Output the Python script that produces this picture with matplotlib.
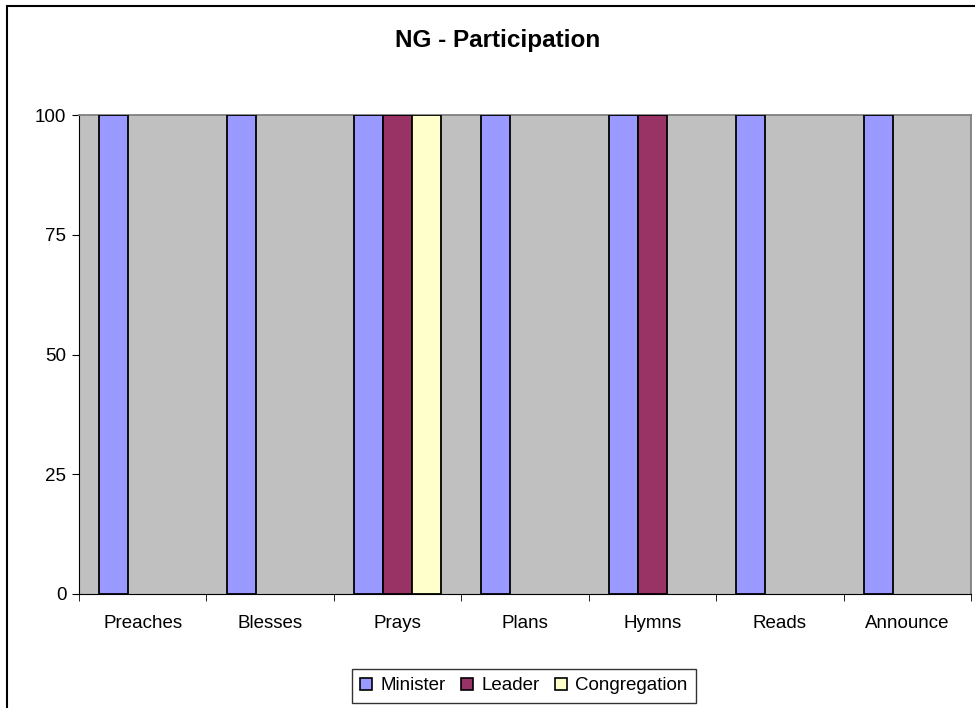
import numpy as np
import matplotlib.pyplot as plt
from matplotlib.patches import Rectangle

plt.rcParams['font.family'] = ['Liberation Sans', 'DejaVu Sans']

categories = ['Preaches', 'Blesses', 'Prays', 'Plans', 'Hymns', 'Reads', 'Announce']
series_names = ['Minister', 'Leader', 'Congregation']
minister = [100, 100, 100, 100, 100, 100, 100]
leader = [0, 0, 100, 0, 100, 0, 0]
congregation = [0, 0, 100, 0, 0, 0, 0]
colors = ['#9999FF', '#993366', '#FFFFCC']

W, H = 975, 708
fig = plt.figure(figsize=(W / 100, H / 100), dpi=100)
ax = fig.add_axes([79 / W, 1 - 594 / H, (971 - 79) / W, (594 - 115) / H])
ax.set_facecolor('#C0C0C0')

# outer chart border (cut off on right and bottom)
fig.patches.append(Rectangle((7 / W, -0.05), 1.1, 1 - 6 / H + 0.05,
                             transform=fig.transFigure, fill=False,
                             edgecolor='black', lw=1.5, zorder=0))

x = np.arange(len(categories))
bw = 0.228
for i, (vals, c, name) in enumerate(zip([minister, leader, congregation], colors, series_names)):
    v = np.array(vals, dtype=float)
    mask = v > 0
    ax.bar(x[mask] + (i - 1) * bw, v[mask], width=bw, color=c,
           edgecolor='black', linewidth=1.3, label=name, zorder=3)

ax.set_xlim(-0.5, len(categories) - 0.5)
ax.set_ylim(0, 100)
ax.set_yticks([0, 25, 50, 75, 100])
ax.set_xticks(x)
ax.set_xticklabels(categories, fontsize=13.5)
ax.tick_params(axis='x', length=0, pad=15)
ax.set_xticks(np.arange(len(categories) + 1) - 0.5, minor=True)
ax.tick_params(axis='x', which='minor', length=5, direction='out', color='black')
ax.tick_params(axis='y', length=5, direction='out', labelsize=13.5, pad=4)

for s in ['top', 'right']:
    ax.spines[s].set_color('#808080')
    ax.spines[s].set_linewidth(1.3)
ax.spines['left'].set_color('black')
ax.spines['bottom'].set_color('black')

fig.text(498 / W, 1 - 41 / H, 'NG - Participation', ha='center', va='center',
         fontsize=17.5, fontweight='bold')

handles = [Rectangle((0, 0), 1, 1, facecolor=c, edgecolor='black', lw=1.2) for c in colors]
leg = fig.legend(handles, series_names, loc='center', bbox_to_anchor=(524 / W, 1 - 686 / H),
                 ncol=3, frameon=True, fancybox=False, fontsize=13.5,
                 handlelength=0.65, handleheight=0.65, handletextpad=0.45,
                 columnspacing=0.8, borderpad=0.45, borderaxespad=0)
leg.get_frame().set_edgecolor('black')
leg.get_frame().set_linewidth(1)

fig.savefig('out.png', dpi=100)
